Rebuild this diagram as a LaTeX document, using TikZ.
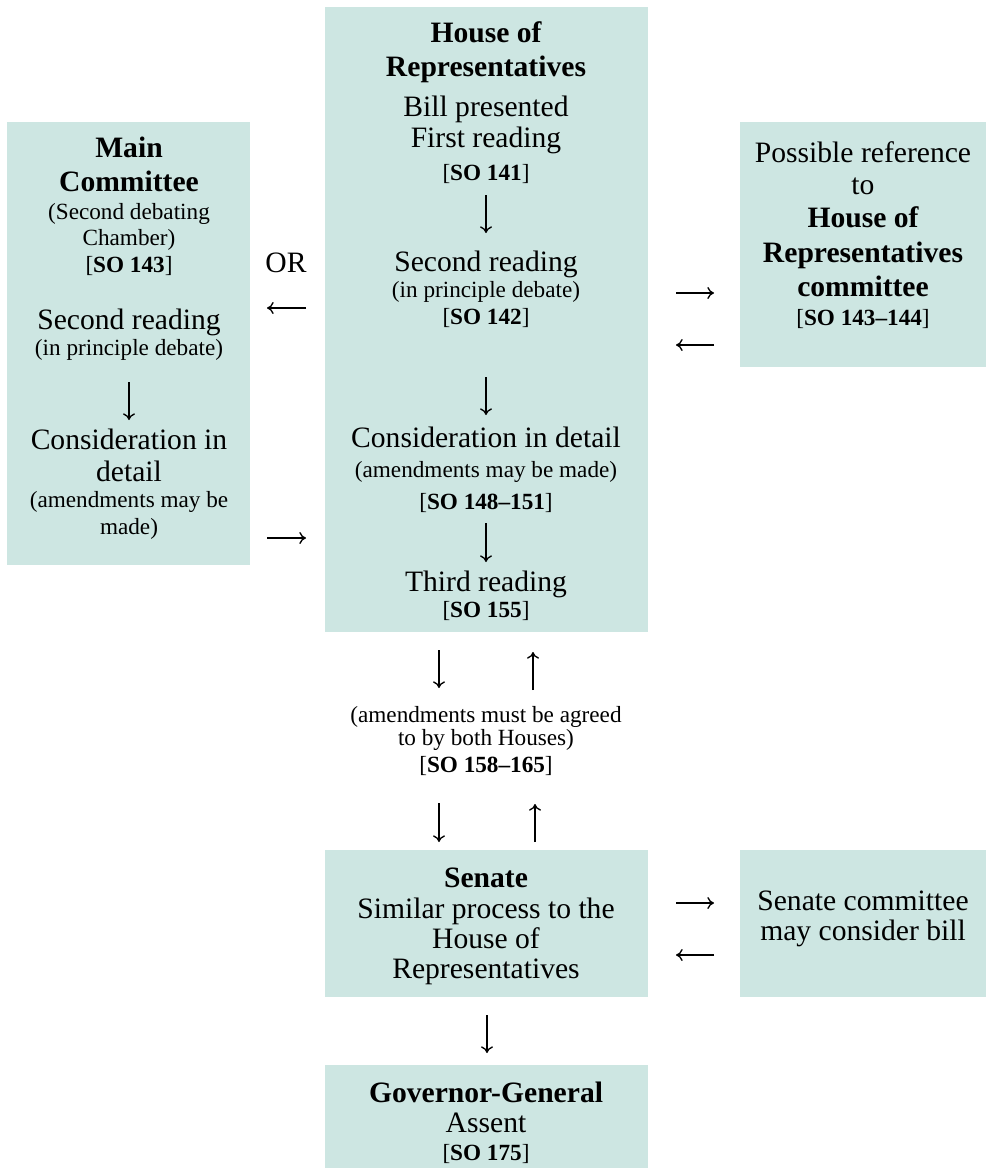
\documentclass[tikz,border=0pt]{standalone}
\usepackage{fontspec}
\setmainfont{Liberation Serif}
\usetikzlibrary{arrows.meta}
\definecolor{boxfill}{RGB}{205,230,226}
\tikzset{
  panel/.style={fill=boxfill, draw=none},
  big/.style={font=\fontsize{22.2}{26}\selectfont, anchor=base, inner sep=0pt},
  bigb/.style={font=\fontsize{22.2}{26}\selectfont\bfseries, anchor=base, inner sep=0pt},
  small/.style={font=\fontsize{17.4}{20}\selectfont, anchor=base, inner sep=0pt},
  arr/.style={line width=1pt, -{To[length=5pt,width=9pt]}},
}
\begin{document}
\begin{tikzpicture}[x=0.75pt,y=-0.75pt]
\useasboundingbox (0,0) rectangle (986,1168);
% panels
\path[panel] (7,122) rectangle (250,565);
\path[panel] (325,7) rectangle (648,632);
\path[panel] (740,122) rectangle (986,367);
\path[panel] (325,850) rectangle (648,997);
\path[panel] (740,850) rectangle (986,997);
\path[panel] (325,1065) rectangle (648,1168);

% House of Representatives
\node[bigb] (h1) at (486,42) {House of};
\node[bigb] (h2) at (486,76) {Representatives};
\node[big] (h3) at (486,116) {Bill presented};
\node[big] (h4) at (486,147) {First reading};
\node[small] (h5) at (486,180) {[\textbf{SO 141}]};
\node[big] (h6) at (486,271) {Second reading};
\node[small] (h7) at (486,297) {(in principle debate)};
\node[small] (h8) at (486,324) {[\textbf{SO 142}]};
\node[big] (h9) at (486,447) {Consideration in detail};
\node[small] (h10) at (486,477) {(amendments may be made)};
\node[small] (h11) at (486,509) {[\textbf{SO 148–151}]};
\node[big] (h12) at (486,591) {Third reading};
\node[small] (h13) at (486,617) {[\textbf{SO 155}]};
\coordinate (ha1) at (486,195); \coordinate (ha2) at (486,233);
\coordinate (hb1) at (486,377); \coordinate (hb2) at (486,415);
\coordinate (hc1) at (486,523); \coordinate (hc2) at (486,562);
\draw[arr] (ha1) -- (ha2);
\draw[arr] (hb1) -- (hb2);
\draw[arr] (hc1) -- (hc2);

% Main Committee
\node[bigb] (m1) at (129,157) {Main};
\node[bigb] (m2) at (129,191) {Committee};
\node[small] (m3) at (129,219) {(Second debating};
\node[small] (m4) at (129,245) {Chamber)};
\node[small] (m5) at (129,272) {[\textbf{SO 143}]};
\node[big] (m6) at (129,329) {Second reading};
\node[small] (m7) at (129,355) {(in principle debate)};
\node[big] (m8) at (129,449) {Consideration in};
\node[big] (m9) at (129,481) {detail};
\node[small] (m10) at (129,507) {(amendments may be};
\node[small] (m11) at (129,534) {made)};
\coordinate (ma1) at (129,382); \coordinate (ma2) at (129,420);
\draw[arr] (ma1) -- (ma2);

% OR and side arrows
\node[big] (or) at (286,272) {OR};
\coordinate (l1s) at (306,308); \coordinate (l1e) at (267,308);
\coordinate (l2s) at (267,538); \coordinate (l2e) at (306,538);
\draw[arr] (l1s) -- (l1e);
\draw[arr] (l2s) -- (l2e);

% House committee
\node[big] (c1) at (863,162) {Possible reference};
\node[big] (c2) at (863,194) {to};
\node[bigb] (c3) at (863,227) {House of};
\node[bigb] (c4) at (863,262) {Representatives};
\node[bigb] (c5) at (863,296) {committee};
\node[small] (c6) at (863,325) {[\textbf{SO 143–144}]};
\coordinate (r1s) at (676,293); \coordinate (r1e) at (714,293);
\coordinate (r2s) at (714,345); \coordinate (r2e) at (676,345);
\draw[arr] (r1s) -- (r1e);
\draw[arr] (r2s) -- (r2e);

% between Houses
\coordinate (d1s) at (439,650); \coordinate (d1e) at (439,688);
\coordinate (u1s) at (533,690); \coordinate (u1e) at (533,652);
\draw[arr] (d1s) -- (d1e);
\draw[arr] (u1s) -- (u1e);
\node[small] (t1) at (486,722) {(amendments must be agreed};
\node[small] (t2) at (486,745) {to by both Houses)};
\node[small] (t3) at (486,772) {[\textbf{SO 158–165}]};
\coordinate (d2s) at (439,803); \coordinate (d2e) at (439,842);
\coordinate (u2s) at (535,842); \coordinate (u2e) at (535,804);
\draw[arr] (d2s) -- (d2e);
\draw[arr] (u2s) -- (u2e);

% Senate
\node[bigb] (s1) at (486,887) {Senate};
\node[big] (s2) at (486,918) {Similar process to the};
\node[big] (s3) at (486,948) {House of};
\node[big] (s4) at (486,978) {Representatives};
\node[big] (sc1) at (863,910) {Senate committee};
\node[big] (sc2) at (863,940) {may consider bill};
\coordinate (r3s) at (676,903); \coordinate (r3e) at (714,903);
\coordinate (r4s) at (714,955); \coordinate (r4e) at (676,955);
\draw[arr] (r3s) -- (r3e);
\draw[arr] (r4s) -- (r4e);

% Governor-General
\coordinate (g1s) at (487,1015); \coordinate (g1e) at (487,1053);
\draw[arr] (g1s) -- (g1e);
\node[bigb] (g1) at (486,1102) {Governor-General};
\node[big] (g2) at (486,1132) {Assent};
\node[small] (g3) at (486,1160) {[\textbf{SO 175}]};
\end{tikzpicture}
\end{document}
